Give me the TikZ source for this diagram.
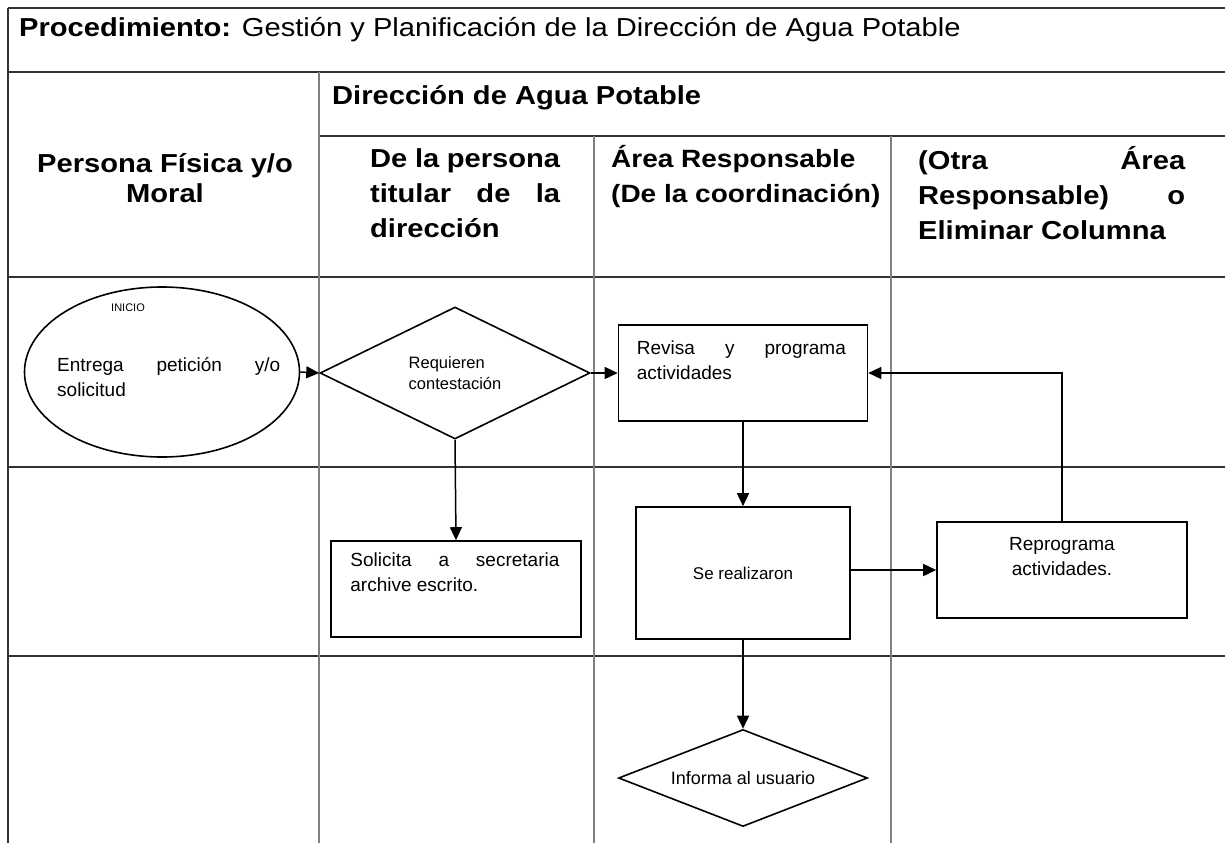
\documentclass[tikz,border=0pt]{standalone}
\usepackage{fontspec}
\setmainfont{Liberation Sans}
\newfontfamily\headfont{Liberation Sans}[FakeStretch=1.12]
\usetikzlibrary{shapes.geometric, arrows.meta, positioning, calc}
\tikzset{flow arrow/.style={-{Triangle[length=13pt,width=12pt]}, line width=1.5pt}}
\newcommand{\jline}[2]{\makebox[#1pt][s]{#2}}

\begin{document}
\begin{tikzpicture}[x=1pt,y=-1pt,
                    row line/.style={draw=black!80, line width=1.5pt},
                    col line/.style={draw=black!50, line width=1.5pt},
                    head text/.style={font=\headfont\bfseries\fontsize{26}{35}\selectfont, inner sep=0, align=left},
                    body text/.style={font=\fontsize{19}{25}\selectfont, inner sep=0, align=left},
                    flow box/.style={draw, line width=1.6pt, rectangle, inner sep=0},
                    flow diamond/.style={draw, line width=1.6pt, diamond, aspect=2.5, inner sep=0},
                    flow ellipse/.style={draw, line width=1.6pt, ellipse, inner sep=0}]
\useasboundingbox (0,0) rectangle (1225,843);

% table
\foreach \y in {8,72,277,467,656}
   \draw[row line] (8,\y) -- (1225,\y);
\draw[row line] (319,136) -- (1225,136);
\draw[row line] (8,8) -- (8,843);
\draw[col line] (319,72) -- (319,843);
\foreach \x in {594,891}
   \draw[col line] (\x,136) -- (\x,843);

% headers (base of a multi-line node = last line)
\node[anchor=base west, inner sep=0, font=\headfont\fontsize{26}{30}\selectfont] (TitleText) at (19,37) {\textbf{Procedimiento:} Gestión y Planificación de la Dirección de Agua Potable};
\node[head text, anchor=base west] (DireccionHead) at (332,104) {Dirección de Agua Potable};
\node[head text, align=center, font=\headfont\bfseries\fontsize{26}{30}\selectfont] (PersonaHead) at (165,178) {Persona Física y/o\\Moral};
\node[head text, anchor=base west] (TitularHead) at (370,237) {\jline{190}{De la persona}\\\jline{190}{titular de la}\\dirección};
\node[head text, anchor=base west, font=\headfont\bfseries\fontsize{25}{35}\selectfont] (AreaHead) at (611,202) {Área Responsable\\(De la coordinación)};
\node[head text, anchor=base west] (OtraHead) at (918,239) {\jline{267}{(Otra Área}\\\jline{267}{Responsable) o}\\Eliminar Columna};

% flow
\node[flow ellipse, minimum width=275pt, minimum height=170pt] (InicioEllipse) at (162,372) {};
\node[font=\fontsize{11}{13}\selectfont] (InicioLabel) at (128,308) {INICIO};
\node[body text, anchor=base west] (InicioText) at (57,396) {\jline{223}{Entrega petición y/o}\\solicitud};

\node[flow diamond, minimum width=270pt, minimum height=132pt, font=\fontsize{16.5}{21}\selectfont, align=left] (RequierenDiamond) at (455,373) {Requieren\\contestación};

\node[flow box, minimum width=249pt, minimum height=96pt] (RevisaBox) at (743,373) {};
\node[body text, anchor=base west] (RevisaText) [shift={(19,55)}] at (RevisaBox.north west) {\jline{209}{Revisa y programa}\\actividades};

\node[flow box, minimum width=250pt, minimum height=96pt] (SolicitaBox) at (456,589) {};
\node[body text, anchor=base west] (SolicitaText) [shift={(20,51)}] at (SolicitaBox.north west) {\jline{209}{Solicita a secretaria}\\archive escrito.};

\node[flow box, minimum width=214pt, minimum height=132pt, font=\fontsize{17}{20}\selectfont] (RealizaronBox) at (743,573) {Se realizaron};

\node[flow box, minimum width=250pt, minimum height=96pt] (ReprogramaBox) at (1062,570) {};
\node[body text, align=center] (ReprogramaText) [shift={(0,-13)}] at (ReprogramaBox) {Reprograma\\actividades.};

\node[flow diamond, minimum width=249pt, minimum height=97pt, font=\fontsize{18}{20}\selectfont] (InformaDiamond) at (743,778) {Informa al usuario};

\draw[flow arrow] (InicioEllipse.east) -- (RequierenDiamond.west);
\draw[flow arrow] (RequierenDiamond.east) -- (RevisaBox.west);
\draw[flow arrow] (RequierenDiamond.south) -- (SolicitaBox.north);
\draw[flow arrow] (RevisaBox.south) -- (RealizaronBox.north);
\draw[flow arrow] (RealizaronBox.east |- ReprogramaBox.west) -- (ReprogramaBox.west);
\draw[flow arrow] (ReprogramaBox.north) |- (RevisaBox.east);
\draw[flow arrow] (RealizaronBox.south) -- (InformaDiamond.north);

\end{tikzpicture}
\end{document}
